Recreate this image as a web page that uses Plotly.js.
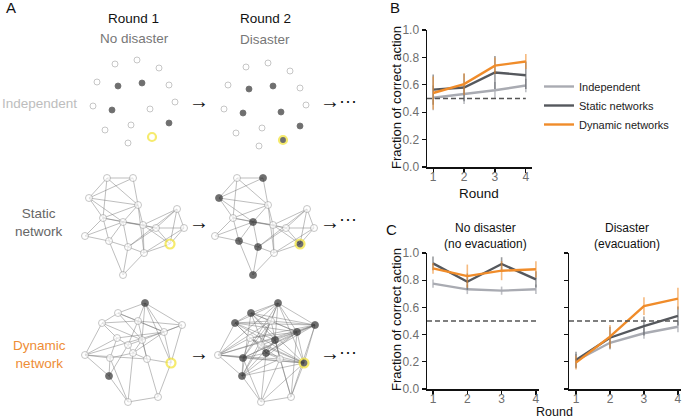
<!DOCTYPE html>
<html><head><meta charset="utf-8">
<script src="https://cdn.plot.ly/plotly-3.0.1.min.js"></script>
<style>html,body{margin:0;padding:0;background:#fff;}#chart{width:685px;height:419px;}</style>
</head><body><div id="chart"></div>
<script>
// ---------------- DATA ----------------
const rounds = [1, 2, 3, 4];
const seriesNames = ['Independent', 'Static networks', 'Dynamic networks'];

// Panel B
const bIndependent = [0.505, 0.53, 0.56, 0.595];
const bIndependentErr = [0.09, 0.07, 0.06, 0.05];
const bStatic = [0.565, 0.58, 0.69, 0.67];
const bStaticErr = [0.11, 0.10, 0.12, 0.10];
const bDynamic = [0.54, 0.605, 0.74, 0.77];
const bDynamicErr = [0.12, 0.08, 0.06, 0.055];

// Panel C, no disaster
const cNoIndependent = [0.775, 0.733, 0.723, 0.733];
const cNoIndependentErr = [0.03, 0.035, 0.03, 0.035];
const cNoStatic = [0.924, 0.789, 0.919, 0.806];
const cNoStaticErr = [0.05, 0.06, 0.05, 0.06];
const cNoDynamic = [0.887, 0.83, 0.87, 0.88];
const cNoDynamicErr = [0.04, 0.085, 0.07, 0.06];

// Panel C, disaster
const cDisIndependent = [0.208, 0.34, 0.41, 0.458];
const cDisIndependentErr = [0.05, 0.05, 0.04, 0.04];
const cDisStatic = [0.213, 0.377, 0.463, 0.537];
const cDisStaticErr = [0.06, 0.08, 0.07, 0.07];
const cDisDynamic = [0.194, 0.385, 0.61, 0.664];
const cDisDynamicErr = [0.05, 0.085, 0.065, 0.08];

const chanceLevel = 0.5;
const yTicks = [0, 0.2, 0.4, 0.6, 0.8, 1.0];

// Panel A: node layouts (diagram units) and states (0 open, 1 chose action, 2 informed open, 3 informed acted)
const indepX = [115, 137, 159, 97, 118, 142, 169, 93, 112, 150, 175, 105, 131, 169, 128, 152];
const indepY = [64, 60, 68, 82, 86, 83, 85, 106, 110, 109, 102, 130, 125, 123, 143, 137];
const indepState1 = [0,0,0,0,1,1,0,0,1,0,0,0,0,1,0,2];
const indepState2 = [0,0,0,0,1,1,0,0,1,1,0,0,0,1,0,3];

const staticX = [107, 133, 89, 138, 177, 103, 123, 143, 156, 184, 85, 109, 128, 144, 170, 123];
const staticY = [178, 178, 198, 205, 209, 218, 222, 225, 228, 228, 236, 241, 247, 253, 244, 275];
const staticEdges = [[0,1],[0,2],[0,3],[1,3],[1,2],[2,3],[2,5],[2,6],[3,5],[3,6],[3,7],[3,13],[4,8],[4,9],[4,14],[4,7],
  [5,6],[5,10],[5,11],[5,7],[6,7],[6,12],[6,11],[6,8],[7,8],[7,14],[7,13],[8,9],[8,14],[8,12],[9,14],[9,13],
  [10,11],[10,6],[11,12],[11,15],[12,13],[12,15],[13,14],[13,15],[0,5],[4,12]];
const staticState1 = [0,0,0,0,0,0,0,0,0,0,0,0,0,0,2,0];
const staticState2 = [0,1,1,0,0,0,1,0,0,0,0,1,1,0,3,1];

const dynX = [145, 118, 102, 138, 182, 164, 117, 142, 128, 85, 110, 133, 147, 171, 109, 158, 128];
const dynY = [303, 313, 323, 321, 325, 332, 338, 340, 345, 355, 358, 353, 359, 363, 376, 397, 402];
const dynEdges1 = [[0,1],[0,3],[0,4],[0,5],[0,7],[0,13],[1,2],[1,3],[1,7],[1,5],[2,6],[2,9],[2,3],[2,7],[3,5],[3,4],
  [3,8],[3,12],[4,5],[4,13],[4,7],[5,13],[5,11],[6,8],[6,9],[6,10],[6,5],[7,8],[7,12],[7,11],[8,11],[9,10],[9,14],
  [9,5],[9,12],[10,11],[10,14],[11,12],[12,13],[13,15],[14,16],[15,16],[12,15],[11,16],[8,14],[10,16]];
const dynEdges2Extra = [[0,2],[0,9],[0,10],[1,4],[1,13],[2,4],[2,5],[2,13],[4,6],[4,11],[5,10],[5,14],[6,13],[7,14],
  [9,13],[10,13],[11,13],[14,13],[3,10],[3,14],[1,11],[12,16],[7,15],[5,15],[8,13],[1,14],[9,3],[4,10],[0,8],[2,11],
  [6,12],[9,4],[14,12],[16,13],[15,4]];
const dynState1 = [1,0,0,0,0,0,0,0,0,0,0,0,0,2,1,0,0];
const dynState2 = [1,1,1,0,1,1,0,1,0,0,1,1,0,3,1,0,0];

// ---------------- STYLE ----------------
const FONT = 'Liberation Sans, Arial, Helvetica, sans-serif';
const colIndep = '#a9abb2', colStatic = '#55585d', colDyn = '#f08c2a';
const errIndep = 'rgba(169,171,178,0.75)', errStatic = 'rgba(85,88,93,0.6)', errDyn = 'rgba(240,140,42,0.6)';
const W = 685, H = 419;
const px = v => v / W, py = v => 1 - v / H;

const traces = [];

function lineTrace(y, err, name, color, ecolor, xa, ya, showleg) {
  return {
    type: 'scatter', mode: 'lines', x: rounds, y: y, name: name,
    xaxis: xa, yaxis: ya, showlegend: showleg, legendgroup: name,
    line: {color: color, width: 2.4},
    error_y: {type: 'data', array: err, visible: true, color: ecolor, thickness: 1.6, width: 0},
    hoverinfo: 'skip'
  };
}
traces.push(lineTrace(bIndependent, bIndependentErr, seriesNames[0], colIndep, errIndep, 'x', 'y', true));
traces.push(lineTrace(bStatic, bStaticErr, seriesNames[1], colStatic, errStatic, 'x', 'y', true));
traces.push(lineTrace(bDynamic, bDynamicErr, seriesNames[2], colDyn, errDyn, 'x', 'y', true));
traces.push(lineTrace(cNoIndependent, cNoIndependentErr, seriesNames[0], colIndep, errIndep, 'x2', 'y2', false));
traces.push(lineTrace(cNoStatic, cNoStaticErr, seriesNames[1], colStatic, errStatic, 'x2', 'y2', false));
traces.push(lineTrace(cNoDynamic, cNoDynamicErr, seriesNames[2], colDyn, errDyn, 'x2', 'y2', false));
traces.push(lineTrace(cDisIndependent, cDisIndependentErr, seriesNames[0], colIndep, errIndep, 'x3', 'y3', false));
traces.push(lineTrace(cDisStatic, cDisStaticErr, seriesNames[1], colStatic, errStatic, 'x3', 'y3', false));
traces.push(lineTrace(cDisDynamic, cDisDynamicErr, seriesNames[2], colDyn, errDyn, 'x3', 'y3', false));

// Panel A diagram traces
function edgeTrace(xs, ys, edges, dx, dy) {
  const ex = [], ey = [];
  edges.forEach(([a, b]) => { ex.push(xs[a] + dx, xs[b] + dx, null); ey.push(ys[a] + dy, ys[b] + dy, null); });
  return {type: 'scatter', mode: 'lines', x: ex, y: ey, xaxis: 'x4', yaxis: 'y4', showlegend: false,
    line: {color: 'rgba(110,110,110,0.75)', width: 0.6}, hoverinfo: 'skip'};
}
function nodeTrace(xs, ys, states, dx, dy, baseSize) {
  return {type: 'scatter', mode: 'markers', x: xs.map(v => v + dx), y: ys.map(v => v + dy),
    xaxis: 'x4', yaxis: 'y4', showlegend: false, hoverinfo: 'skip', cliponaxis: false,
    marker: {
      size: states.map(s => s >= 2 ? baseSize + 2 : baseSize),
      color: states.map(s => (s === 1 || s === 3) ? '#333333' : '#ffffff'),
      line: {color: states.map(s => s >= 2 ? '#f3e331' : (s === 1 ? '#333333' : '#9a9a9a')),
             width: states.map(s => s >= 2 ? 2.2 : 0.8)}
    }};
}
const r2dxIndep = 131, r2dyIndep = 3, r2dxStatic = 130, r2dxDyn = 133;
traces.push(nodeTrace(indepX, indepY, indepState1, 0, 0, 6));
traces.push(nodeTrace(indepX, indepY, indepState2, r2dxIndep, r2dyIndep, 6));
traces.push(edgeTrace(staticX, staticY, staticEdges, 0, 0));
traces.push(edgeTrace(staticX, staticY, staticEdges, r2dxStatic, 0));
traces.push(nodeTrace(staticX, staticY, staticState1, 0, 0, 7));
traces.push(nodeTrace(staticX, staticY, staticState2, r2dxStatic, 0, 7));
traces.push(edgeTrace(dynX, dynY, dynEdges1, 0, 0));
traces.push(edgeTrace(dynX, dynY, dynEdges1.concat(dynEdges2Extra), r2dxDyn, 0));
traces.push(nodeTrace(dynX, dynY, dynState1, 0, 0, 7));
traces.push(nodeTrace(dynX, dynY, dynState2, r2dxDyn, 0, 7));

// ---------------- LAYOUT ----------------
const axisCommon = {showline: true, linecolor: '#111', linewidth: 1.5, ticks: 'outside', ticklen: 4, tickwidth: 1.2,
  tickcolor: '#111', tickfont: {family: FONT, size: 12, color: '#6e6e6e'}, showgrid: false, zeroline: false, fixedrange: true};
const xAxisCommon = Object.assign({}, axisCommon, {ticklabelstandoff: -6});

function ann(text, x, y, size, color, extra) {
  return Object.assign({text: text, x: px(x), y: py(y), xref: 'paper', yref: 'paper', showarrow: false,
    xanchor: 'center', yanchor: 'middle', font: {family: FONT, size: size, color: color}}, extra || {});
}
const annotations = [
  ann('A', 11, 8, 15, '#111'), ann('B', 395, 8, 15, '#111'), ann('C', 392, 229, 15, '#111'),
  ann('Round 1', 133, 18, 13.5, '#111'), ann('No disaster', 134, 38, 13.5, '#777'),
  ann('Round 2', 265, 19, 13.5, '#111'), ann('Disaster', 265, 40, 13.5, '#777'),
  ann('Independent', 39, 103, 13.5, '#bdbdbd'),
  ann('Static<br>network', 39, 222, 13.5, '#666'),
  ann('Dynamic<br>network', 39, 354, 13.5, '#ee8d35'),
  ann('→', 199, 101, 20, '#111'), ann('→', 330, 101, 20, '#111'), ann('···', 348, 101, 18, '#111'),
  ann('→', 199, 222, 20, '#111'), ann('→', 330, 222, 20, '#111'), ann('···', 348, 219, 18, '#111'),
  ann('→', 199, 353, 20, '#111'), ann('→', 330, 353, 20, '#111'), ann('···', 348, 352, 18, '#111'),
  ann('Fraction of correct action', 397, 98, 13, '#111', {textangle: -90}),
  ann('Round', 479, 193, 13.5, '#111'),
  ann('No disaster<br>(no evacuation)', 485, 236, 12, '#111'),
  ann('Disaster<br>(evacuation)', 627, 236, 12, '#111'),
  ann('Fraction of correct action', 396, 320, 13, '#111', {textangle: -90}),
  ann('Round', 554, 411.5, 12.5, '#111')
];

const dash = {type: 'line', y0: chanceLevel, y1: chanceLevel, line: {color: '#555', width: 1.3, dash: '5px,3px'}};
const layout = {
  width: W, height: H, margin: {l: 0, r: 0, t: 0, b: 0}, paper_bgcolor: '#fff', plot_bgcolor: 'rgba(0,0,0,0)',
  font: {family: FONT}, showlegend: true,
  legend: {x: px(539), y: py(72), xanchor: 'left', yanchor: 'top', bgcolor: 'rgba(0,0,0,0)',
    font: {family: FONT, size: 11, color: '#222'}, tracegroupgap: 6, traceorder: 'normal'},
  xaxis: Object.assign({}, xAxisCommon, {domain: [px(427), px(532)], range: [0.8, 4.2], tickvals: rounds, anchor: 'y'}),
  yaxis: Object.assign({}, axisCommon, {domain: [py(167), py(30)], range: [0, 1], tickvals: yTicks, tickformat: '.1f', anchor: 'x'}),
  xaxis2: Object.assign({}, xAxisCommon, {domain: [px(427), px(539)], range: [0.825, 4.09], tickvals: rounds, anchor: 'y2'}),
  yaxis2: Object.assign({}, axisCommon, {domain: [py(389), py(253)], range: [0, 1], tickvals: yTicks, tickformat: '.1f', anchor: 'x2'}),
  xaxis3: Object.assign({}, xAxisCommon, {domain: [px(569), px(681)], range: [0.794, 4.09], tickvals: rounds, anchor: 'y3'}),
  yaxis3: Object.assign({}, axisCommon, {domain: [py(389), py(253)], range: [0, 1], tickvals: yTicks, showticklabels: false, anchor: 'x3'}),
  xaxis4: {domain: [0, 1], range: [0, W], visible: false, fixedrange: true, anchor: 'y4'},
  yaxis4: {domain: [0, 1], range: [H, 0], visible: false, fixedrange: true, anchor: 'x4'},
  shapes: [
    Object.assign({}, dash, {xref: 'x', yref: 'y', x0: 0.8, x1: 4}),
    Object.assign({}, dash, {xref: 'x2', yref: 'y2', x0: 0.825, x1: 4.09}),
    Object.assign({}, dash, {xref: 'x3', yref: 'y3', x0: 0.794, x1: 4.0})
  ],
  annotations: annotations
};
Plotly.newPlot('chart', traces, layout, {staticPlot: true, displayModeBar: false});
</script>
</body></html>
